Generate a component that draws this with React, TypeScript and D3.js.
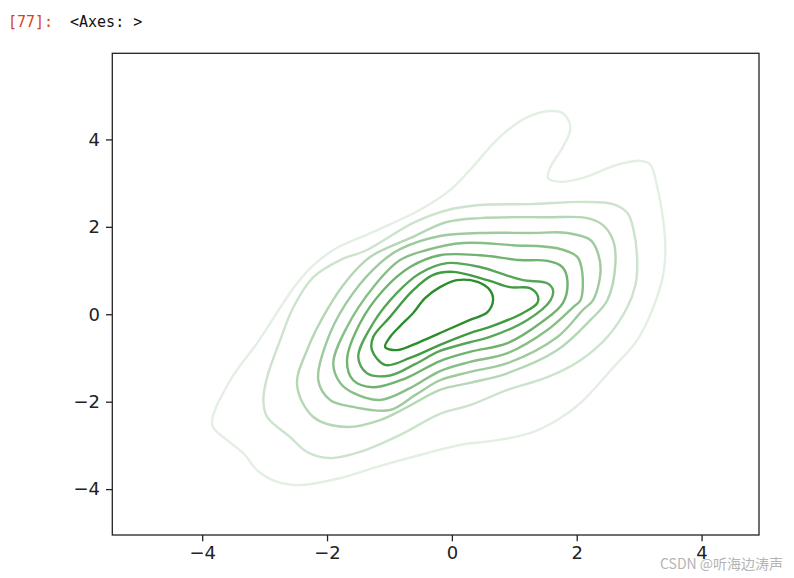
import { useEffect, useRef } from 'react';
import * as d3 from 'd3';

type Pt = [number, number];

// KDE contour outlines, outermost (lowest density) first
const level1: Pt[] = [
  [-3.84, -2.53], [-3.55, -1.51], [-3.12, -0.66], [-2.70, 0.26], [-2.48, 0.71], [-2.22, 1.12],
  [-1.84, 1.52], [-1.20, 1.92], [-0.51, 2.39], [-0.03, 2.84], [0.29, 3.30], [0.77, 4.06],
  [1.21, 4.51], [1.58, 4.65], [1.78, 4.60], [1.90, 4.28], [1.78, 3.83], [1.58, 3.37],
  [1.54, 3.12], [1.74, 3.03], [2.10, 3.12], [2.65, 3.42], [3.02, 3.51], [3.18, 3.42],
  [3.29, 2.91], [3.39, 2.09], [3.42, 1.47], [3.39, 0.94], [3.23, 0.17], [2.97, -0.59],
  [2.59, -1.21], [2.06, -2.03], [1.69, -2.42], [1.25, -2.72], [0.73, -2.88], [0.13, -2.99],
  [-0.51, -3.22], [-1.15, -3.47], [-1.79, -3.75], [-2.48, -3.91], [-2.86, -3.80], [-3.12, -3.57],
  [-3.34, -3.18], [-3.60, -2.88],
];
const level2: Pt[] = [
  [-3.02, -1.96], [-2.96, -1.44], [-2.75, -0.59], [-2.54, 0.16], [-2.22, 0.85], [-1.79, 1.24],
  [-1.36, 1.47], [-0.62, 2.09], [-0.08, 2.38], [0.45, 2.50], [1.25, 2.52], [2.10, 2.57],
  [2.58, 2.52], [2.81, 2.32], [2.91, 1.93], [2.97, 1.17], [2.94, 0.67], [2.81, 0.16],
  [2.49, -0.52], [2.06, -1.05], [1.53, -1.44], [0.89, -1.73], [0.29, -2.08], [-0.19, -2.28],
  [-0.83, -2.76], [-1.47, -3.15], [-1.95, -3.29], [-2.32, -3.15], [-2.59, -2.81], [-2.96, -2.35],
];
const level3: Pt[] = [
  [-2.48, -1.62], [-2.32, -0.82], [-2.00, 0.10], [-1.68, 0.78], [-1.31, 1.31], [-0.67, 1.74],
  [-0.08, 2.11], [0.45, 2.20], [1.53, 2.22], [2.17, 2.20], [2.42, 2.04], [2.58, 1.70],
  [2.62, 1.17], [2.49, 0.32], [2.22, -0.13], [1.69, -0.82], [0.89, -1.35], [0.29, -1.57],
  [-0.19, -1.73], [-0.75, -2.15], [-1.15, -2.42], [-1.68, -2.58], [-2.22, -2.35],
];
const level4: Pt[] = [
  [-2.14, -1.51], [-1.95, -0.43], [-1.58, 0.49], [-1.15, 1.17], [-0.83, 1.49], [-0.19, 1.79],
  [0.45, 1.86], [1.25, 1.86], [1.85, 1.86], [2.22, 1.70], [2.34, 1.40], [2.38, 0.94],
  [2.26, 0.32], [2.10, 0.10], [1.69, -0.52], [0.89, -1.12], [0.29, -1.32], [-0.19, -1.51],
  [-0.59, -1.85], [-0.99, -2.19], [-1.58, -2.12], [-1.95, -1.96],
];
const level5: Pt[] = [
  [-1.90, -1.12], [-1.68, -0.29], [-1.26, 0.62], [-0.83, 1.24], [-0.40, 1.47], [0.18, 1.63],
  [0.98, 1.58], [1.69, 1.51], [2.01, 1.31], [2.09, 0.94], [2.06, 0.32], [1.94, 0.16],
  [1.53, -0.36], [0.89, -0.89], [0.29, -1.09], [-0.19, -1.30], [-0.67, -1.69], [-1.15, -1.96],
  [-1.58, -1.80], [-1.79, -1.57],
];
const level6: Pt[] = [
  [-1.68, -1.05], [-1.47, -0.20], [-1.10, 0.55], [-0.67, 1.08], [-0.19, 1.35], [0.45, 1.35],
  [1.09, 1.24], [1.53, 1.22], [1.77, 1.08], [1.85, 0.78], [1.78, 0.26], [1.42, -0.20],
  [0.89, -0.66], [0.29, -0.86], [-0.19, -1.07], [-0.75, -1.47], [-1.26, -1.67], [-1.58, -1.51],
];
const level7: Pt[] = [
  [-1.50, -0.98], [-1.26, -0.20], [-0.88, 0.49], [-0.51, 0.94], [-0.08, 1.17], [0.45, 1.08],
  [0.77, 0.94], [1.14, 0.78], [1.53, 0.71], [1.62, 0.55], [1.58, 0.32], [1.21, -0.13],
  [0.61, -0.52], [0.29, -0.64], [-0.19, -0.84], [-0.59, -1.14], [-0.99, -1.40], [-1.36, -1.35],
];
const level8: Pt[] = [
  [-1.28, -0.82], [-1.26, -0.52], [-0.99, -0.06], [-0.62, 0.55], [-0.30, 0.90], [0.02, 0.97],
  [0.57, 0.78], [0.93, 0.62], [1.25, 0.60], [1.37, 0.44], [1.37, 0.26], [1.14, 0.03],
  [0.61, -0.29], [0.29, -0.43], [-0.19, -0.70], [-0.67, -1.00], [-1.07, -1.16],
];
const level9: Pt[] = [
  [-1.07, -0.75], [-0.99, -0.52], [-0.83, -0.27], [-0.62, 0.03], [-0.43, 0.37], [-0.19, 0.62],
  [0.08, 0.78], [0.41, 0.74], [0.61, 0.55], [0.66, 0.32], [0.57, 0.05], [0.29, -0.13],
  [-0.08, -0.36], [-0.51, -0.63], [-0.88, -0.82],
];

const levels = [level1, level2, level3, level4, level5, level6, level7, level8, level9];

const xTicks = [-4, -2, 0, 2, 4];
const yTicks = [-4, -2, 0, 2, 4];
const xDomain: [number, number] = [-5.44, 4.92];
const yDomain: [number, number] = [-5.05, 5.97];

const width = 794;
const height = 578;

const App = () => {
  const svgRef = useRef<SVGSVGElement>(null);

  useEffect(() => {
    if (!svgRef.current) return;
    const svg = d3.select(svgRef.current);
    svg.selectAll('*').remove();

    const margin = { top: 53.3, right: 35, bottom: 43, left: 112.3 };
    const x = d3.scaleLinear().domain(xDomain).range([margin.left, width - margin.right]);
    const y = d3.scaleLinear().domain(yDomain).range([height - margin.bottom, margin.top]);

    // light -> dark green by density level
    const color = d3.scaleLinear<string>()
      .domain([0, levels.length - 1])
      .range(['#e3efe3', '#2a8f2a'])
      .interpolate(d3.interpolateRgb);

    const line = d3.line<Pt>()
      .x(d => x(d[0]))
      .y(d => y(d[1]))
      .curve(d3.curveCatmullRomClosed.alpha(0.5));

    const plot = svg.append('g');
    plot.selectAll('path.contour')
      .data(levels)
      .join('path')
      .attr('class', 'contour')
      .attr('fill', 'none')
      .attr('stroke', (_, i) => color(i))
      .attr('stroke-width', 2.4)
      .attr('d', d => line(d));

    // axes
    const xAxis = svg.append('g')
      .attr('transform', `translate(0,${y.range()[0]})`)
      .call(d3.axisBottom(x).tickValues(xTicks).tickSize(6.3).tickPadding(5).tickSizeOuter(0));
    const yAxis = svg.append('g')
      .attr('transform', `translate(${x.range()[0]},0)`)
      .call(d3.axisLeft(y).tickValues(yTicks).tickSize(6.3).tickPadding(6).tickSizeOuter(0));

    [xAxis, yAxis].forEach(a => {
      a.select('.domain').remove();
      a.selectAll('line').attr('stroke', '#222').attr('stroke-width', 1.3);
      a.selectAll('text')
        .attr('fill', '#222')
        .style('font-family', '"DejaVu Sans", sans-serif')
        .style('font-size', '18px');
    });

    svg.append('rect')
      .attr('x', x.range()[0])
      .attr('y', y.range()[1])
      .attr('width', x.range()[1] - x.range()[0])
      .attr('height', y.range()[0] - y.range()[1])
      .attr('fill', 'none')
      .attr('stroke', '#222')
      .attr('stroke-width', 1.3);

    // notebook output prompt
    const prompt = svg.append('g')
      .style('font-family', '"DejaVu Sans Mono", monospace')
      .style('font-size', '15px');
    prompt.append('text').attr('x', 8).attr('y', 27).attr('fill', '#d84315').text('[77]:');
    prompt.append('text').attr('x', 70).attr('y', 27).attr('fill', '#111').text('<Axes: >');

    svg.append('text')
      .attr('x', 660)
      .attr('y', 569)
      .attr('fill', '#b4b4b4')
      .style('font-family', '"Noto Sans CJK SC", "Noto Sans", sans-serif')
      .style('font-size', '14px')
      .text('CSDN @听海边涛声');
  }, []);

  return (
    <svg
      ref={svgRef}
      width={width}
      height={height}
      style={{ position: 'absolute', left: 0, top: 0, background: '#fff' }}
    />
  );
};

export default App;
